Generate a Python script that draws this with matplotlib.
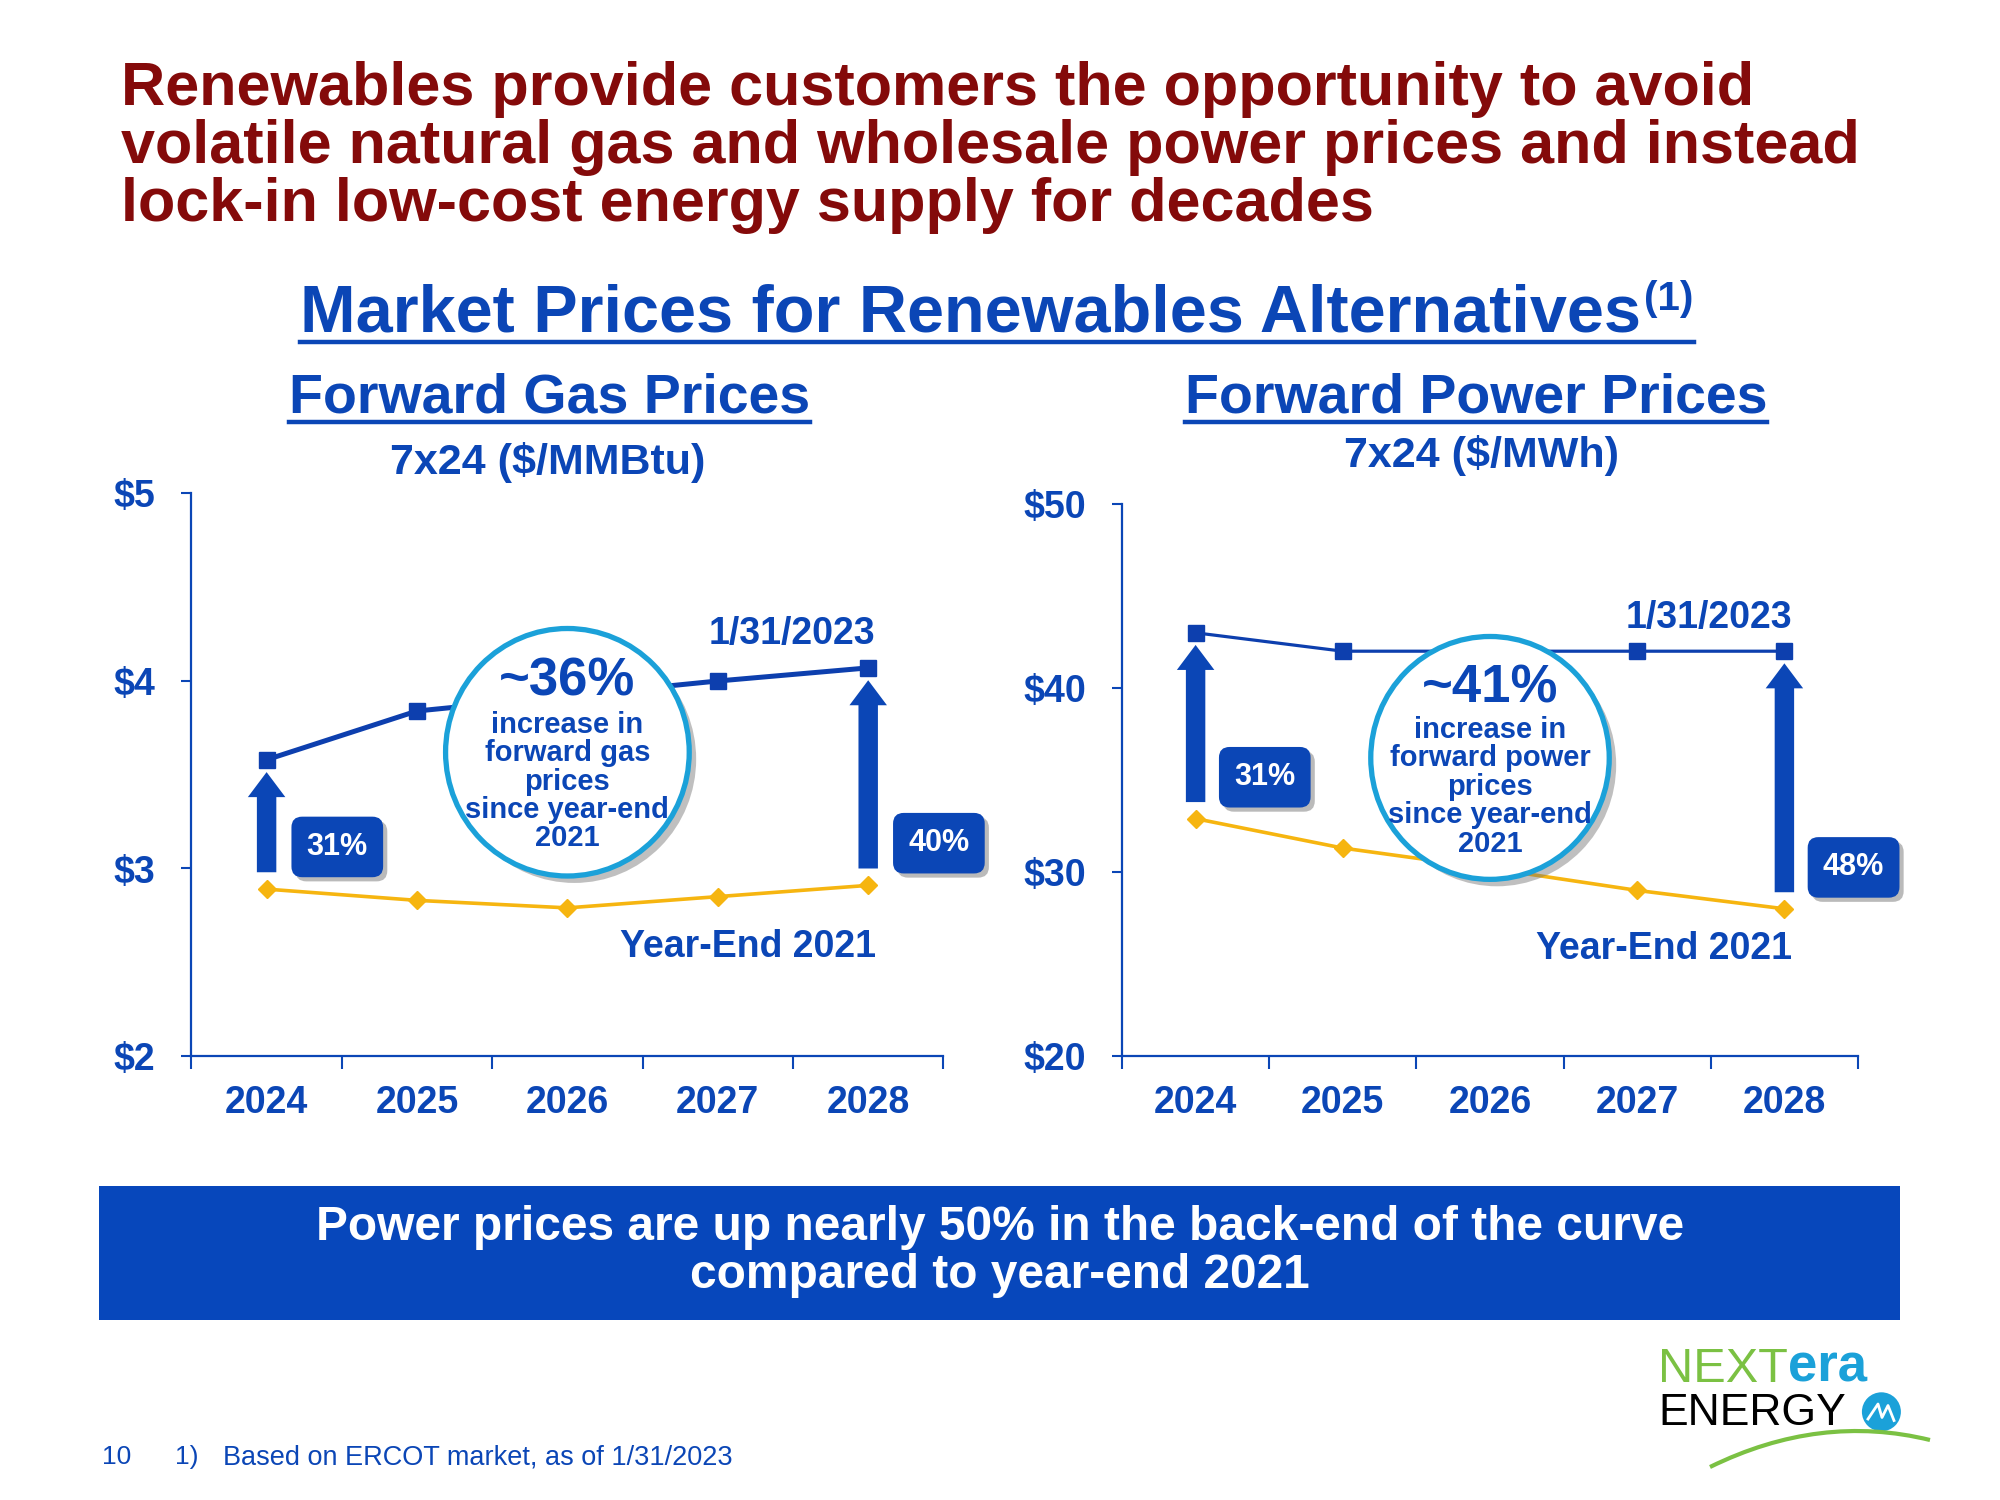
''' Forward gas and power prices: 1/31/2023 vs year-end 2021 '''

import matplotlib
matplotlib.use('Agg')
import matplotlib.pyplot as plt
import matplotlib.patheffects as pe
import matplotlib.transforms as mtrans
from matplotlib.patches import Ellipse, Rectangle, PathPatch
from matplotlib.path import Path
from matplotlib.lines import Line2D

plt.rcParams['font.family'] = ['Liberation Sans', 'DejaVu Sans']

YEARS = ['2024', '2025', '2026', '2027', '2028']
GAS_CURRENT = [3.58, 3.84, 3.92, 4.00, 4.07]     # 1/31/2023, $/MMBtu
GAS_YE2021 = [2.89, 2.83, 2.79, 2.85, 2.91]      # year-end 2021
POWER_CURRENT = [43.0, 42.0, 42.0, 42.0, 42.0]   # 1/31/2023, $/MWh
POWER_YE2021 = [32.9, 31.3, 30.2, 29.0, 28.0]    # year-end 2021
GAS_TICKS = [2, 3, 4, 5]
POWER_TICKS = [20, 30, 40, 50]
GAS_CHANGE = ['31%', '40%']
POWER_CHANGE = ['31%', '48%']
GAS_BUBBLE = ['~36%', 'increase in\nforward gas\nprices\nsince year-end\n2021']
POWER_BUBBLE = ['~41%', 'increase in\nforward power\nprices\nsince year-end\n2021']
SERIES_NAMES = ['1/31/2023', 'Year-End 2021']

TITLE_LINES = ['Renewables provide customers the opportunity to avoid',
               'volatile natural gas and wholesale power prices and instead',
               'lock-in low-cost energy supply for decades']
HEADING = 'Market Prices for Renewables Alternatives'
BANNER = ['Power prices are up nearly 50% in the back-end of the curve',
          'compared to year-end 2021']

RED = '#840a0a'
BLUE = '#0b46b6'
LINE_BLUE = '#0d3fae'
GOLD = '#f6b510'
CYAN = '#1ba1d9'
GREEN = '#7bc143'


def draw_panel(ax, current, ye, ticks, changes, bubble, lw_cur):
    x = list(range(len(YEARS)))
    lo, hi = ticks[0], ticks[-1]
    rng = hi - lo
    ax.plot(x, ye, color=GOLD, lw=2.6, marker='D', ms=9, zorder=2)
    ax.plot(x, current, color=LINE_BLUE, lw=lw_cur, marker='s', ms=11.5,
            zorder=2)
    ax.set_xlim(-0.5, len(YEARS) - 0.5)
    ax.set_ylim(lo, hi)

    # axes styling
    for s in ['top', 'right']:
        ax.spines[s].set_visible(False)
    for s in ['left', 'bottom']:
        ax.spines[s].set_color(BLUE)
        ax.spines[s].set_linewidth(1.6)
    ax.set_yticks(ticks)
    ax.set_yticklabels(['$%d' % t for t in ticks])
    ax.tick_params(axis='y', colors=BLUE, length=7, width=1.5, pad=19,
                   labelsize=27)
    ax.set_xticks([i - 0.5 for i in range(len(YEARS) + 1)])
    ax.set_xticklabels([])
    ax.set_xticks(x, minor=True)
    ax.set_xticklabels(YEARS, minor=True)
    ax.tick_params(axis='x', which='major', colors=BLUE, length=9, width=1.5)
    ax.tick_params(axis='x', which='minor', colors=BLUE, length=0, pad=21,
                   labelsize=27)
    for lab in ax.get_xticklabels(minor=True) + ax.get_yticklabels():
        lab.set_fontweight('bold')

    # arrows + percentage boxes on first and last year
    for i, lab in zip([0, len(YEARS) - 1], changes):
        base = ye[i] + 0.03 * rng
        tip = current[i] - 0.022 * rng
        ax.annotate('', xy=(i, tip), xytext=(i, base),
                    arrowprops=dict(arrowstyle='simple,head_length=0.9,'
                                    'head_width=1.35,tail_width=0.7',
                                    mutation_scale=20, fc=BLUE, ec='none',
                                    shrinkA=0, shrinkB=0),
                    zorder=4)
        t = ax.text(i + 0.47, ye[i] + 0.075 * rng, lab, color='white',
                    fontsize=22, fontweight='bold', ha='center', va='center',
                    zorder=6, clip_on=False,
                    bbox=dict(boxstyle='round,pad=0.5,rounding_size=0.35',
                              fc=BLUE, ec='none'))
        t.get_bbox_patch().set_path_effects(
            [pe.SimplePatchShadow(offset=(3, -3), shadow_rgbFace='0.4',
                                  alpha=0.45), pe.Normal()])

    # bubble
    ell = Ellipse((2, lo + 0.54 * rng), 1.62, 0.44 * rng, fc='white',
                  ec=CYAN, lw=3.8, zorder=5)
    ell.set_path_effects([pe.SimplePatchShadow(offset=(5, -5),
                                               shadow_rgbFace='0.45',
                                               alpha=0.45), pe.Normal()])
    ax.add_patch(ell)
    ax.text(2, lo + 0.665 * rng, bubble[0], color=BLUE, fontsize=38,
            fontweight='bold', ha='center', va='center', zorder=6)
    ax.text(2, lo + 0.488 * rng, bubble[1], color=BLUE, fontsize=21,
            fontweight='bold', ha='center', va='center', linespacing=1.02,
            zorder=6)

    # series labels
    ax.text(4.05, current[-1] + 0.06 * rng, SERIES_NAMES[0], color=BLUE,
            fontsize=27, fontweight='bold', ha='right', va='center', zorder=6)
    tr = mtrans.blended_transform_factory(ax.transData, ax.transAxes)
    ax.text(4.05, 0.194, SERIES_NAMES[1], color=BLUE, transform=tr,
            fontsize=27, fontweight='bold', ha='right', va='center', zorder=6)
    ax.patch.set_alpha(0)


fig = plt.figure(figsize=(20, 15), dpi=100)

for line, y in zip(TITLE_LINES, [0.930, 0.891, 0.853]):
    fig.text(0.0606, y, line, color=RED, fontsize=44, fontweight='bold',
             va='baseline')

heading = fig.text(0.485, 0.779, HEADING, color=BLUE, fontsize=48,
                   fontweight='bold', ha='center', va='baseline')
sup = fig.text(0, 0, '(1)', color=BLUE, fontsize=29, fontweight='bold')
gas_t = fig.text(0.2749, 0.725, 'Forward Gas Prices', color=BLUE, fontsize=40,
                 fontweight='bold', ha='center', va='baseline')
pow_t = fig.text(0.738, 0.725, 'Forward Power Prices', color=BLUE, fontsize=40,
                 fontweight='bold', ha='center', va='baseline')
fig.text(0.274, 0.684, '7x24 ($/MMBtu)', color=BLUE, fontsize=31,
         fontweight='bold', ha='center', va='baseline')
fig.text(0.741, 0.689, '7x24 ($/MWh)', color=BLUE, fontsize=31,
         fontweight='bold', ha='center', va='baseline')

ax_gas = fig.add_axes([0.0957, 0.296, 0.376, 0.375])
draw_panel(ax_gas, GAS_CURRENT, GAS_YE2021, GAS_TICKS, GAS_CHANGE,
           GAS_BUBBLE, 3.6)
ax_pow = fig.add_axes([0.561, 0.296, 0.368, 0.368])
draw_panel(ax_pow, POWER_CURRENT, POWER_YE2021, POWER_TICKS, POWER_CHANGE,
           POWER_BUBBLE, 2.3)

# banner
fig.add_artist(Rectangle((0.0497, 0.120), 0.9005, 0.0893,
                         transform=fig.transFigure, fc='#0747bb', ec='none'))
for line, y in zip(BANNER, [0.173, 0.141]):
    fig.text(0.5, y, line, color='white', fontsize=34.5, fontweight='bold',
             ha='center', va='baseline')

# footer
fig.text(0.051, 0.024, '10', color=BLUE, fontsize=19, va='baseline')
fig.text(0.0874, 0.024, '1)', color=BLUE, fontsize=19, va='baseline')
fig.text(0.1116, 0.024, 'Based on ERCOT market, as of 1/31/2023', color=BLUE,
         fontsize=19.5, va='baseline')

# logo
nxt = fig.text(0.829, 0.079, 'NEXT', color=GREEN, fontsize=35, va='baseline')
fig.text(0.829, 0.050, 'ENERGY', color='black', fontsize=32, va='baseline')
fig.add_artist(Ellipse((0.9407, 0.0588), 0.0195, 0.026,
                       transform=fig.transFigure, fc=CYAN, ec='none'))
fig.add_artist(Line2D([0.934, 0.939, 0.941, 0.944, 0.947],
                      [0.054, 0.064, 0.055, 0.063, 0.053], color='white',
                      lw=2, transform=fig.transFigure))
swoosh = Path([(0.855, 0.022), (0.91, 0.058), (0.965, 0.040)],
              [Path.MOVETO, Path.CURVE3, Path.CURVE3])
fig.add_artist(PathPatch(swoosh, transform=fig.transFigure, fc='none',
                         ec=GREEN, lw=3))

# superscript, "era", underlines need text extents
fig.canvas.draw()
r = fig.canvas.get_renderer()
inv = fig.transFigure.inverted()
hb = heading.get_window_extent(r).transformed(inv)
sup.set_position((hb.x1 + 0.002, 0.793))
nb = nxt.get_window_extent(r).transformed(inv)
fig.text(nb.x1, 0.079, 'era', color=CYAN, fontsize=38, fontweight='bold',
         va='baseline')
fig.canvas.draw()
sb = sup.get_window_extent(r).transformed(inv)
for x0, x1, y in [(hb.x0, sb.x1, 0.772)] + [
        (b.x0, b.x1, 0.719) for b in
        [t.get_window_extent(r).transformed(inv) for t in (gas_t, pow_t)]]:
    fig.add_artist(Line2D([x0, x1], [y, y], color=BLUE, lw=3.2,
                          transform=fig.transFigure))

fig.savefig('out.png', dpi=100, facecolor='white')
